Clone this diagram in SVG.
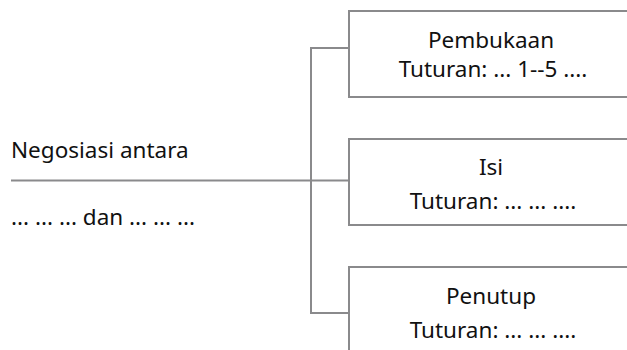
<svg xmlns="http://www.w3.org/2000/svg" width="627" height="350" viewBox="0 0 627 350">
<style>
.box{fill:#fff;stroke:#8a8a8c;stroke-width:2}
.ln{fill:none;stroke:#8a8a8c;stroke-width:2}
text{font-family:"Noto Sans","Open Sans",sans-serif;font-size:22.5px;fill:#111}
.c{text-anchor:middle}
</style>
<rect width="627" height="350" fill="#fff"/>
<g id="connectors">
<path class="ln" d="M11,180.5 H349"/>
<path class="ln" d="M349,48 H311 V313 H349"/>
</g>
<g id="root">
<text x="11" y="157.5">Negosiasi antara</text>
<text x="11" y="225">... ... ... dan ... ... ...</text>
</g>
<g id="pembukaan">
<rect class="box" x="349" y="11" width="290" height="86"/>
<text class="c" x="491" y="48">Pembukaan</text>
<text class="c" x="493" y="77">Tuturan: ... 1--5 ....</text>
</g>
<g id="isi">
<rect class="box" x="349" y="139" width="290" height="86"/>
<text class="c" x="491" y="175">Isi</text>
<text class="c" x="493" y="209">Tuturan: ... ... ....</text>
</g>
<g id="penutup">
<rect class="box" x="349" y="267" width="290" height="100"/>
<text class="c" x="491" y="304">Penutup</text>
<text class="c" x="493" y="338">Tuturan: ... ... ....</text>
</g>
</svg>
